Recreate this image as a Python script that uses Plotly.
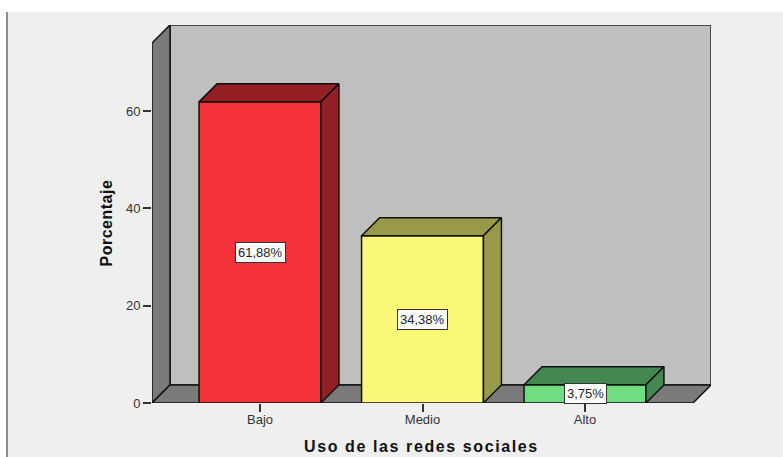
import plotly.graph_objects as go

categories = ["Bajo", "Medio", "Alto"]
values = [61.88, 34.38, 3.75]
labels = ["61,88%", "34,38%", "3,75%"]
front_colors = ["#f43339", "#fbf777", "#70dd80"]
shade_colors = ["#941f24", "#99994a", "#428850"]
y_ticks = [0, 20, 40, 60]

WIDTH, HEIGHT = 783, 457
L, R, T, B = 152, 711, 25, 403      # plot box in pixels
UX = 162.5                           # pixels per category
UY = 292 / 60                        # pixels per percent
X0 = 260                             # pixel of first category
DEPTH = 18                           # pixels of 3D depth
BAR_W = 0.75

xr = [(L - X0) / UX, (R - X0) / UX]
yr = [0, (B - T) / UY]
dx, dy = DEPTH / UX, DEPTH / UY
wall_top = yr[1] - dy
px = lambda p: (p - L) / (R - L)
py = lambda p: (B - p) / (B - T)

def path(points):
    return "M " + " L ".join(f"{x},{y}" for x, y in points) + " Z"

shapes = [
    dict(type="rect", xref="paper", yref="paper", x0=px(8), x1=px(WIDTH), y0=py(HEIGHT), y1=py(12),
         fillcolor="#efefef", line_width=0, layer="below"),
    dict(type="line", xref="paper", yref="paper", x0=px(7), x1=px(7), y0=py(HEIGHT), y1=py(12),
         line=dict(color="#666666", width=1.5), layer="below"),
    dict(type="path", xref="x", yref="y", layer="below", fillcolor="#bfbfbf", line=dict(color="#222222", width=1.5),
         path=path([(xr[0] + dx, dy), (xr[1], dy), (xr[1], yr[1]), (xr[0] + dx, yr[1])])),
    dict(type="path", xref="x", yref="y", layer="below", fillcolor="#7a7a7a", line=dict(color="#111111", width=1.5),
         path=path([(xr[0], 0), (xr[0] + dx, dy), (xr[0] + dx, yr[1]), (xr[0], wall_top)])),
    dict(type="path", xref="x", yref="y", layer="below", fillcolor="#7a7a7a", line=dict(color="#111111", width=1.5),
         path=path([(xr[0], 0), (xr[1] - dx, 0), (xr[1], dy), (xr[0] + dx, dy)])),
]

fig = go.Figure()
fig.add_trace(go.Bar(x=list(range(len(categories))), y=values, width=BAR_W,
                     marker=dict(color=front_colors, line=dict(color="#111111", width=1.5)),
                     hoverinfo="skip"))
for i, v in enumerate(values):
    a, b = i - BAR_W / 2, i + BAR_W / 2
    fig.add_trace(go.Scatter(x=[a, a + dx, b + dx, b, a], y=[v, v + dy, v + dy, v, v], mode="lines",
                             fill="toself", fillcolor=shade_colors[i], line=dict(color="#111111", width=1.5),
                             hoverinfo="skip"))
    fig.add_trace(go.Scatter(x=[b, b + dx, b + dx, b, b], y=[v, v + dy, dy, 0, v], mode="lines",
                             fill="toself", fillcolor=shade_colors[i], line=dict(color="#111111", width=1.5),
                             hoverinfo="skip"))
    fig.add_annotation(x=i, y=v / 2, xref="x", yref="y", text=labels[i], showarrow=False,
                       bgcolor="white", bordercolor="#333333", borderwidth=1, borderpad=2,
                       font=dict(family="Liberation Sans", size=13, color="#222222"))

fig.add_annotation(x=px(421.5), y=py(446), xref="paper", yref="paper", xanchor="center", yanchor="middle",
                   text="<b>Uso de las redes sociales</b>",
                   showarrow=False, font=dict(family="Liberation Sans", size=16, color="#111111"))
fig.add_annotation(x=px(106), y=py(223), xref="paper", yref="paper", xanchor="center", yanchor="middle",
                   text="<b>Porcentaje</b>", textangle=-90,
                   showarrow=False, font=dict(family="Liberation Sans", size=16, color="#111111"))

fig.update_layout(
    width=WIDTH, height=HEIGHT, autosize=False, showlegend=False,
    margin=dict(l=L, r=WIDTH - R, t=T, b=HEIGHT - B, pad=0),
    paper_bgcolor="white", plot_bgcolor="rgba(0,0,0,0)", shapes=shapes,
    font=dict(family="Liberation Sans", color="#333333"),
    xaxis=dict(range=xr, tickmode="array", tickvals=list(range(len(categories))), ticktext=categories,
               showgrid=False, zeroline=False, showline=False, ticks="outside", ticklen=8, tickwidth=1.5,
               tickcolor="#333333", tickfont=dict(size=13), automargin=False, ticklabelstandoff=-4),
    yaxis=dict(range=yr, tickmode="array", tickvals=y_ticks, showgrid=False, zeroline=False, showline=False,
               ticks="outside", ticklen=8, tickwidth=1.5, tickcolor="#333333", tickfont=dict(size=13), automargin=False),
)
post = """
document.body.style.margin='0';
document.querySelectorAll('text.annotation-text').forEach(function(t){
  if (t.textContent.indexOf('Uso')===0) t.style.letterSpacing='1.6px';
  if (t.textContent.indexOf('Porcentaje')===0) t.style.letterSpacing='0.5px';
});
"""
fig.write_html("out.html", post_script=post, config={"displayModeBar": False})
